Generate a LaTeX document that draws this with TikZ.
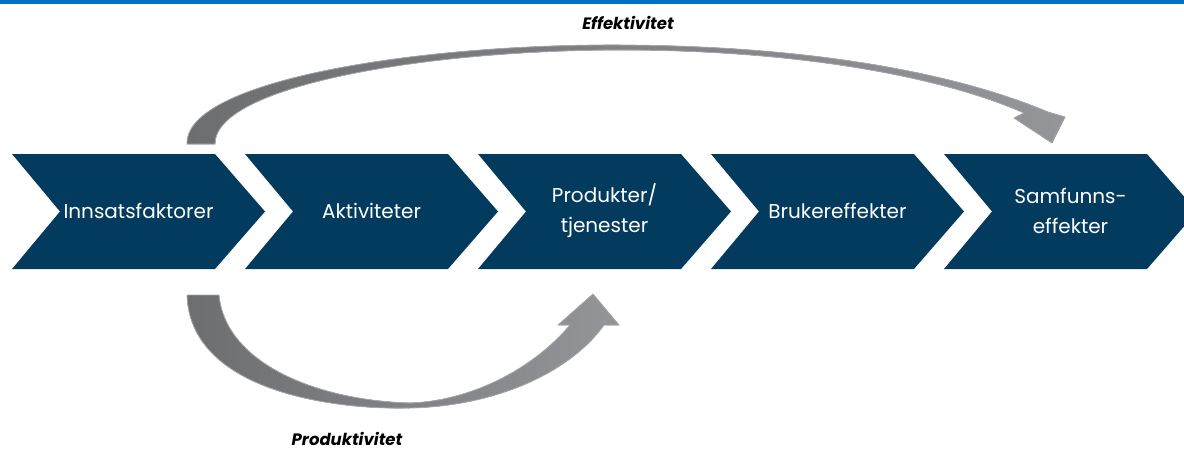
\documentclass[tikz,border=0pt]{standalone}
\usepackage{fontspec}
\setmainfont{Poppins}
\usetikzlibrary{calc}
\definecolor{navy}{HTML}{023B5E}
\definecolor{topblue}{HTML}{0070C0}
\definecolor{arrowdark}{HTML}{6D6E70}
\definecolor{arrowlight}{HTML}{939598}
\definecolor{arrowedge}{HTML}{A7A9AC}
\tikzset{>=latex}
\tikzset{
  steptext/.style={text=white, align=center,
    font=\fontsize{20}{30}\selectfont},
  effect/.style={font=\fontsize{16.5}{18}\selectfont\bfseries\itshape},
  bendarrow/.style={left color=arrowdark, right color=arrowlight,
    draw=arrowedge, line width=0.8pt, line join=round},
}

\begin{document}
\begin{tikzpicture}[x=1pt,y=-1pt]
  \useasboundingbox (0,0) rectangle (1184,452);
  \fill[topblue] (0,0) rectangle (1184,4);

  % the five steps
  \foreach \i/\lbl/\txt in {0/innsats/Innsatsfaktorer,
      1/aktiv/Aktiviteter, 2/produkt/{Produkter/\\tjenester},
      3/bruker/Brukereffekter, 4/samfunn/{Samfunns-\\effekter}} {
    \pgfmathsetmacro{\xl}{12+233*\i}
    \fill[navy] (\xl,154) -- ++(203,0) -- ++(50,57.5) -- ++(-50,57.5)
      -- ++(-203,0) -- ++(48,-57.5) -- cycle;
    \node[steptext] (\lbl) at (\xl+126.5,211) {\txt};
  }

  % effektivitet: innsats -> samfunn
  \coordinate (efftail) at (201,144);
  \coordinate (efftip) at (1052,143);
  \fill[bendarrow] (187,144) .. controls (185,80) and (420,44) .. (620,45)
    .. controls (820,46) and (960,75) .. (1048,112)
    -- (1065,117) -- (efftip) -- (1014,118) -- (1024,113)
    .. controls (950,80) and (810,50) .. (620,50)
    .. controls (430,50) and (215,85) .. (215,144) -- cycle;

  % produktivitet: innsats -> produkt
  \coordinate (prodtail) at (203,295);
  \coordinate (prodtip) at (593,294);
  \fill[bendarrow] (187,295) .. controls (190,390) and (330,410) .. (410,408)
    .. controls (500,406) and (572,370) .. (604,325)
    -- (619,325) -- (prodtip) -- (558,325) -- (570,325)
    .. controls (532,370) and (470,401) .. (410,403)
    .. controls (310,400) and (225,360) .. (219,295) -- cycle;

  \node[effect] (effektivitet) at (628,23) {Effektivitet};
  \node[effect] (produktivitet) at (347,439) {Produktivitet};
\end{tikzpicture}
\end{document}
